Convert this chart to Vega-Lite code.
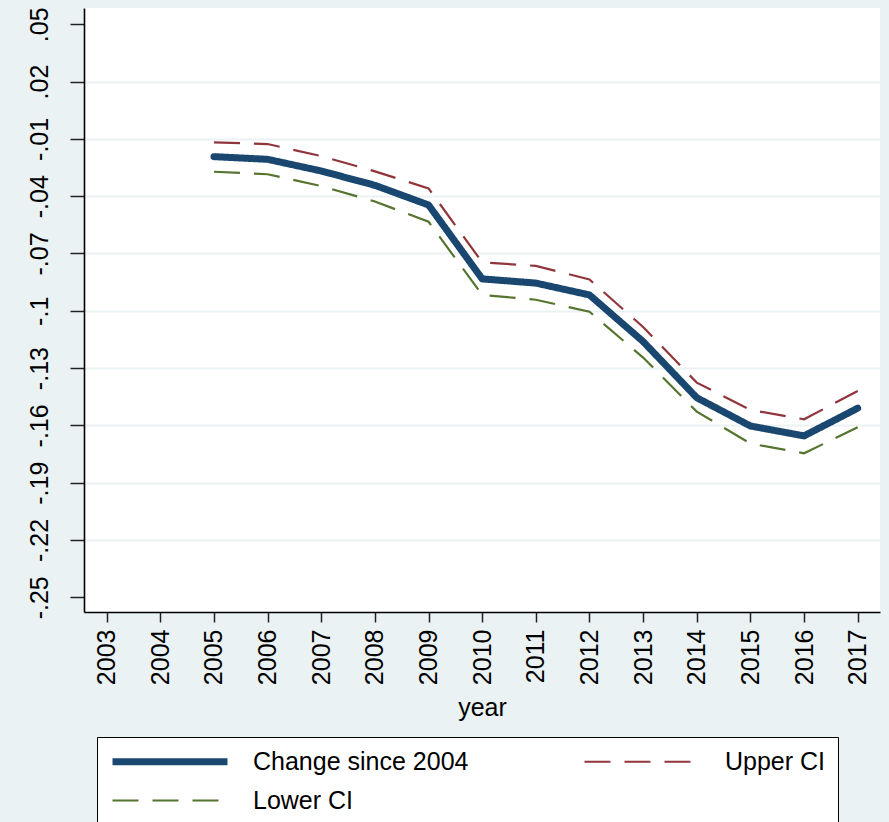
{
  "$schema": "https://vega.github.io/schema/vega-lite/v6.json",
  "width": 796,
  "height": 604,
  "autosize": {"type": "none"},
  "padding": {"left": 84, "top": 8, "right": 9, "bottom": 210},
  "background": "#EAF2F3",
  "config": {
    "view": {"fill": "white", "stroke": null},
    "font": "Liberation Sans",
    "axis": {
      "labelFont": "Liberation Sans",
      "labelFontSize": 25,
      "labelColor": "black",
      "tickColor": "#222222",
      "tickWidth": 1.5,
      "domainColor": "black",
      "domainWidth": 1.6,
      "titleFont": "Liberation Sans",
      "titleFontSize": 25,
      "titleFontWeight": "normal",
      "titleColor": "black"
    }
  },
  "data": {
    "values": [
      {"year": 2005, "series": "Change since 2004", "value": -0.0193},
      {"year": 2006, "series": "Change since 2004", "value": -0.0207},
      {"year": 2007, "series": "Change since 2004", "value": -0.0268},
      {"year": 2008, "series": "Change since 2004", "value": -0.0343},
      {"year": 2009, "series": "Change since 2004", "value": -0.0446},
      {"year": 2010, "series": "Change since 2004", "value": -0.0833},
      {"year": 2011, "series": "Change since 2004", "value": -0.0855},
      {"year": 2012, "series": "Change since 2004", "value": -0.0917},
      {"year": 2013, "series": "Change since 2004", "value": -0.1161},
      {"year": 2014, "series": "Change since 2004", "value": -0.1455},
      {"year": 2015, "series": "Change since 2004", "value": -0.1603},
      {"year": 2016, "series": "Change since 2004", "value": -0.1655},
      {"year": 2017, "series": "Change since 2004", "value": -0.1510},
      {"year": 2005, "series": "Upper CI", "value": -0.0118},
      {"year": 2006, "series": "Upper CI", "value": -0.0127},
      {"year": 2007, "series": "Upper CI", "value": -0.0190},
      {"year": 2008, "series": "Upper CI", "value": -0.0270},
      {"year": 2009, "series": "Upper CI", "value": -0.0359},
      {"year": 2010, "series": "Upper CI", "value": -0.0746},
      {"year": 2011, "series": "Upper CI", "value": -0.0765},
      {"year": 2012, "series": "Upper CI", "value": -0.0836},
      {"year": 2013, "series": "Upper CI", "value": -0.1085},
      {"year": 2014, "series": "Upper CI", "value": -0.1376},
      {"year": 2015, "series": "Upper CI", "value": -0.1519},
      {"year": 2016, "series": "Upper CI", "value": -0.1568},
      {"year": 2017, "series": "Upper CI", "value": -0.1420},
      {"year": 2005, "series": "Lower CI", "value": -0.0272},
      {"year": 2006, "series": "Lower CI", "value": -0.0285},
      {"year": 2007, "series": "Lower CI", "value": -0.0347},
      {"year": 2008, "series": "Lower CI", "value": -0.0428},
      {"year": 2009, "series": "Lower CI", "value": -0.0534},
      {"year": 2010, "series": "Lower CI", "value": -0.0917},
      {"year": 2011, "series": "Lower CI", "value": -0.0942},
      {"year": 2012, "series": "Lower CI", "value": -0.1005},
      {"year": 2013, "series": "Lower CI", "value": -0.1245},
      {"year": 2014, "series": "Lower CI", "value": -0.1528},
      {"year": 2015, "series": "Lower CI", "value": -0.1695},
      {"year": 2016, "series": "Lower CI", "value": -0.1746},
      {"year": 2017, "series": "Lower CI", "value": -0.1610}
    ]
  },
  "encoding": {
    "x": {
      "field": "year",
      "type": "quantitative",
      "scale": {"domain": [2002.577, 2017.416], "nice": false, "zero": false},
      "axis": {
        "title": "year",
        "values": [2003, 2004, 2005, 2006, 2007, 2008, 2009, 2010, 2011, 2012, 2013, 2014, 2015, 2016, 2017],
        "format": "d",
        "labelAngle": -90,
        "labelAlign": "right",
        "labelBaseline": "middle",
        "tickSize": 10,
        "labelPadding": 7,
        "titlePadding": 11,
        "grid": false,
        "labelOverlap": false
      }
    },
    "y": {
      "field": "value",
      "type": "quantitative",
      "scale": {"domain": [-0.2577, 0.05853], "nice": false, "zero": false},
      "axis": {
        "title": null,
        "values": [-0.25, -0.22, -0.19, -0.16, -0.13, -0.1, -0.07, -0.04, -0.01, 0.02, 0.05],
        "labelExpr": "(datum.value < 0 ? '-' : '') + slice(format(abs(datum.value), '.2~f'), 1)",
        "labelAngle": -90,
        "labelAlign": "center",
        "labelBaseline": "bottom",
        "tickSize": 14,
        "labelPadding": 18,
        "labelOverlap": false,
        "grid": true,
        "gridColor": "#EAF2F3",
        "gridWidth": 2,
        "gridOpacity": {"condition": {"test": "datum.value > 0.04 || datum.value < -0.24", "value": 0}, "value": 1}
      }
    },
    "color": {
      "field": "series",
      "type": "nominal",
      "scale": {
        "domain": ["Change since 2004", "Upper CI", "Lower CI"],
        "range": ["#1A476F", "#90353B", "#55752F"]
      },
      "legend": {
        "title": null,
        "orient": "none",
        "legendX": 13,
        "legendY": 729,
        "direction": "horizontal",
        "columns": 2,
        "symbolType": "stroke",
        "symbolSize": 13225,
        "clipHeight": 25,
        "labelFont": "Liberation Sans",
        "labelFontSize": 25,
        "labelColor": "black",
        "labelOffset": 22,
        "labelLimit": 0,
        "columnPadding": 112,
        "rowPadding": 13,
        "padding": 12,
        "strokeColor": "black",
        "fillColor": "white"
      }
    },
    "strokeDash": {
      "field": "series",
      "type": "nominal",
      "scale": {
        "type": "ordinal",
        "domain": ["Change since 2004", "Upper CI", "Lower CI"],
        "range": [[1, 0], [26, 14], [26, 14]]
      },
      "legend": null
    },
    "strokeWidth": {
      "field": "series",
      "type": "nominal",
      "scale": {
        "type": "ordinal",
        "domain": ["Change since 2004", "Upper CI", "Lower CI"],
        "range": [7, 2.2, 2.2]
      },
      "legend": null
    }
  },
  "layer": [
    {
      "transform": [{"filter": "datum.series !== 'Change since 2004'"}],
      "mark": {"type": "line", "strokeCap": "butt"}
    },
    {
      "transform": [{"filter": "datum.series === 'Change since 2004'"}],
      "mark": {"type": "line", "strokeCap": "round", "strokeJoin": "round"}
    }
  ]
}
